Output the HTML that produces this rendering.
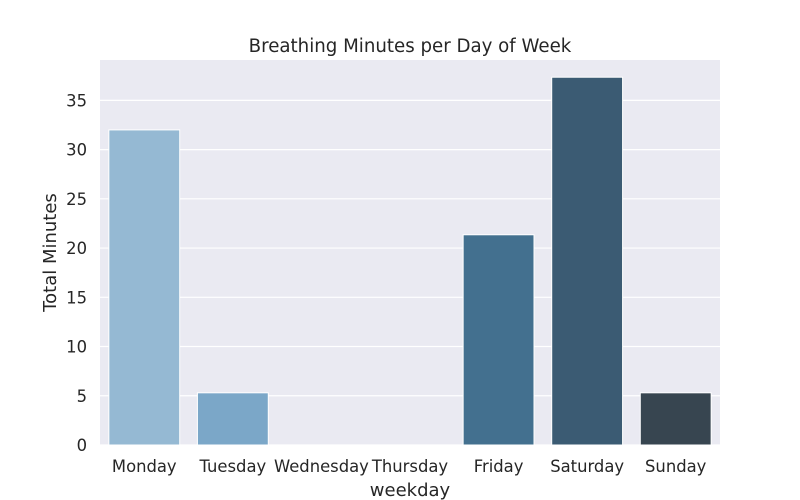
<!DOCTYPE html>
<html><head><meta charset="utf-8"><style>body{margin:0;background:#fff}svg{display:block;font-family:"DejaVu Sans","Liberation Sans",sans-serif}</style></head>
<body>
<svg id="chart" width="800" height="500"></svg>
<script>
const categories=["Monday","Tuesday","Wednesday","Thursday","Friday","Saturday","Sunday"];
const values=[32,5.3,0,0,21.35,37.35,5.3];
const colors=["#95b9d3","#7ba7c8","#6294b8","#4d82aa","#43708f","#3b5b73","#374550"];
const yTicks=[0,5,10,15,20,25,30,35];
const NS="http://www.w3.org/2000/svg";
const svg=document.getElementById('chart');
const L=100,R=720,T=60,B=445,yMax=39.1;
const y=v=>B-(v/yMax)*(B-T);
const band=(R-L)/categories.length;
const x=i=>L+band*i;
function mk(tag,attrs,parent){const e=document.createElementNS(NS,tag);for(const k in attrs)e.setAttribute(k,attrs[k]);(parent||svg).appendChild(e);return e;}
const bg=mk('rect',{x:L,y:T,width:R-L,height:B-T,fill:'#eaeaf2'});


yTicks.forEach(t=>{
  const g=mk('line',{x1:L,x2:R,y1:y(t),y2:y(t),stroke:'#fff','stroke-width':1.2});
  
  
  const tx=mk('text',{x:L-13,y:y(t)+6,'text-anchor':'end','font-size':16.4,fill:'#262626'});
  tx.textContent=t;
  
  
});
categories.forEach((c,i)=>{
  const w=band*0.8;
  const b=mk('rect',{x:x(i)+band*0.1,y:y(values[i]),width:w,height:B-y(values[i]),fill:colors[i],stroke:'#fff','stroke-width':1});
  
  
  const tx=mk('text',{x:x(i)+band/2,y:B+27,'text-anchor':'middle','font-size':16.4,fill:'#262626'});
  tx.textContent=c;
  
  
});
const title=mk('text',{x:(L+R)/2,y:52,'text-anchor':'middle','font-size':18.2,fill:'#262626'});
title.textContent='Breathing Minutes per Day of Week';


const xl=mk('text',{x:(L+R)/2,y:496,'text-anchor':'middle','font-size':18,fill:'#262626'});
xl.textContent='weekday';


const yl=mk('text',{x:0,y:0,transform:`translate(56,${(T+B)/2}) rotate(-90)`,'text-anchor':'middle','font-size':18,fill:'#262626'});
yl.textContent='Total Minutes';


</script>
</body></html>
